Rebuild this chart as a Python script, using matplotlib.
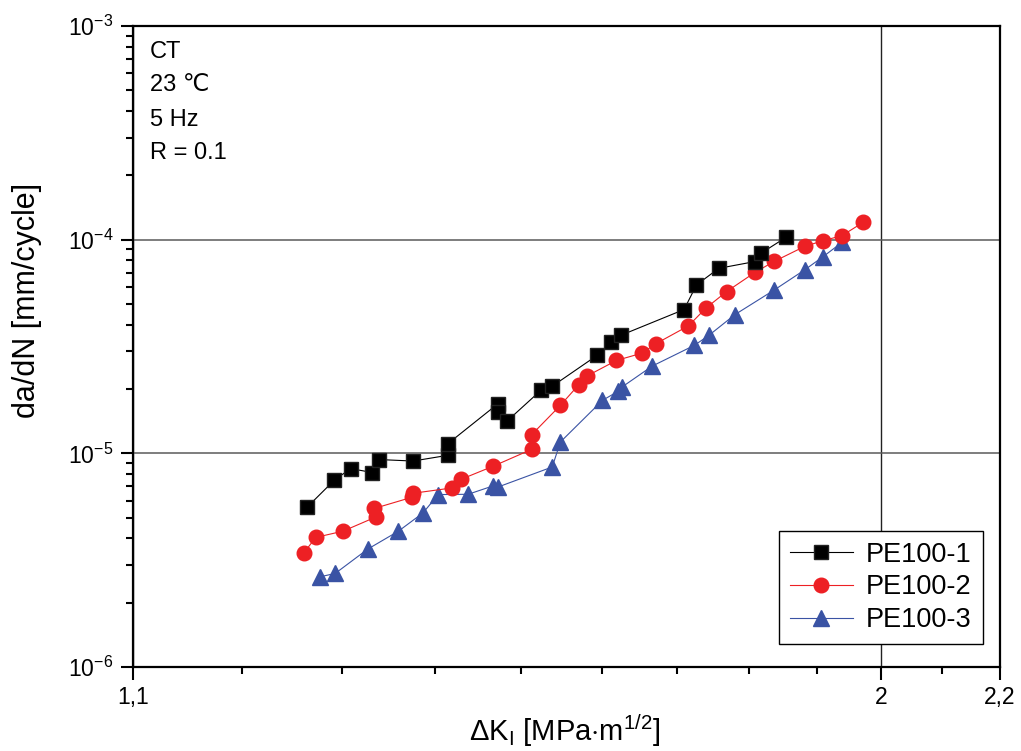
import numpy as np
import matplotlib
matplotlib.use("Agg")
import matplotlib.pyplot as plt
from matplotlib.ticker import LogLocator, FuncFormatter, NullFormatter

plt.rcParams['font.family'] = ['Liberation Sans', 'DejaVu Sans']
plt.rcParams['mathtext.fontset'] = 'custom'
plt.rcParams['mathtext.rm'] = 'Liberation Sans'
plt.rcParams['mathtext.it'] = 'Liberation Sans:italic'

# data: delta K [MPa m^1/2], da/dN [mm/cycle]
dk_pe1 = [1.264, 1.292, 1.309, 1.332, 1.339, 1.376, 1.415, 1.415, 1.473, 1.473,
          1.483, 1.524, 1.538, 1.594, 1.612, 1.625, 1.709, 1.726, 1.757, 1.808,
          1.818, 1.854]
dadn_pe1 = [5.58e-6, 7.48e-6, 8.48e-6, 8.13e-6, 9.35e-6, 9.20e-6, 9.79e-6, 1.11e-5,
            1.71e-5, 1.56e-5, 1.41e-5, 1.97e-5, 2.06e-5, 2.87e-5, 3.31e-5, 3.57e-5,
            4.71e-5, 6.14e-5, 7.34e-5, 7.89e-5, 8.66e-5, 1.025e-4]

dk_pe2 = [1.261, 1.273, 1.301, 1.336, 1.334, 1.375, 1.376, 1.419, 1.430, 1.467,
          1.513, 1.513, 1.548, 1.571, 1.581, 1.619, 1.652, 1.671, 1.715, 1.739,
          1.768, 1.809, 1.837, 1.882, 1.910, 1.939, 1.972]
dadn_pe2 = [3.42e-6, 4.04e-6, 4.32e-6, 5.04e-6, 5.52e-6, 6.23e-6, 6.50e-6, 6.88e-6,
            7.56e-6, 8.70e-6, 1.044e-5, 1.223e-5, 1.676e-5, 2.094e-5, 2.297e-5,
            2.72e-5, 2.94e-5, 3.26e-5, 3.95e-5, 4.78e-5, 5.71e-5, 7.04e-5, 7.92e-5,
            9.30e-5, 9.89e-5, 1.044e-4, 1.205e-4]

dk_pe3 = [1.277, 1.293, 1.327, 1.360, 1.387, 1.404, 1.438, 1.467, 1.473, 1.538,
          1.548, 1.601, 1.621, 1.626, 1.666, 1.723, 1.743, 1.780, 1.837, 1.882,
          1.910, 1.939]
dadn_pe3 = [2.64e-6, 2.74e-6, 3.56e-6, 4.32e-6, 5.26e-6, 6.41e-6, 6.43e-6, 7.04e-6,
            6.96e-6, 8.63e-6, 1.129e-5, 1.769e-5, 1.949e-5, 2.04e-5, 2.56e-5,
            3.20e-5, 3.56e-5, 4.46e-5, 5.82e-5, 7.22e-5, 8.33e-5, 9.71e-5]

x_major = [1.1, 2.0, 2.2]
x_major_labels = ['1,1', '2', '2,2']
x_minor = [1.2, 1.3, 1.4, 1.5, 1.6, 1.7, 1.8, 1.9, 2.1]
info_lines = ['CT', '23 \u2103', '5 Hz', 'R = 0.1']

fig = plt.figure(figsize=(10.21, 7.51), dpi=100)
ax = fig.add_axes([0.1303, 0.1119, 0.8491, 0.8535])

ax.plot(dk_pe1, dadn_pe1, color='black', lw=0.8, marker='s', ms=9.5,
        mec='#222222', label='PE100-1', zorder=5)
ax.plot(dk_pe2, dadn_pe2, color='#ed2024', lw=0.8, marker='o', ms=10.5,
        label='PE100-2', zorder=4)
ax.plot(dk_pe3, dadn_pe3, color='#3a53a4', lw=0.8, marker='^', ms=11,
        label='PE100-3', zorder=3)

ax.set_xscale('log')
ax.set_yscale('log')
ax.set_xlim(1.1, 2.2)
ax.set_ylim(1e-6, 1e-3)

ax.set_xticks(x_major)
ax.set_xticklabels(x_major_labels)
ax.set_xticks(x_minor, minor=True)
ax.xaxis.set_minor_formatter(NullFormatter())

ax.yaxis.set_major_locator(LogLocator(base=10))
ax.yaxis.set_minor_locator(LogLocator(base=10, subs=np.arange(2, 10)))
ax.yaxis.set_major_formatter(FuncFormatter(
    lambda v, p: r'$\mathregular{10^{%d}}$' % int(round(np.log10(v)))))
ax.yaxis.set_minor_formatter(NullFormatter())

ax.tick_params(which='major', direction='out', length=9, width=1.5,
               labelsize=16.5, pad=5)
ax.tick_params(which='minor', direction='out', length=5, width=1.5)
for s in ax.spines.values():
    s.set_linewidth(1.6)

ax.yaxis.grid(True, which='major', color='#5a5a5a', lw=1.1)
ax.xaxis.grid(True, which='major', color='#222222', lw=1.0)
ax.set_axisbelow(True)

ys = [0.960, 0.908, 0.853, 0.802]
for t, yy in zip(info_lines, ys):
    ax.text(0.0196, yy, t, transform=ax.transAxes, fontsize=17,
            va='center', ha='left')

fig.text(27 / 1021, 1 - 300 / 751, 'da/dN [mm/cycle]', rotation=90,
         fontsize=22, ha='center', va='center')
fig.text(565 / 1021, 1 - 731 / 751,
         r'$\Delta$K$_\mathrm{I}$ [MPa$\cdot$m$^{1/2}$]',
         fontsize=21, ha='center', va='center')

leg = ax.legend(loc='lower right', bbox_to_anchor=(0.980, 0.036),
                borderaxespad=0, fontsize=19.5, fancybox=False,
                edgecolor='black', framealpha=1, handlelength=2.3,
                labelspacing=0.25, borderpad=0.4, handletextpad=0.5)
leg.get_frame().set_linewidth(1.0)

fig.savefig('out.png', dpi=100)
